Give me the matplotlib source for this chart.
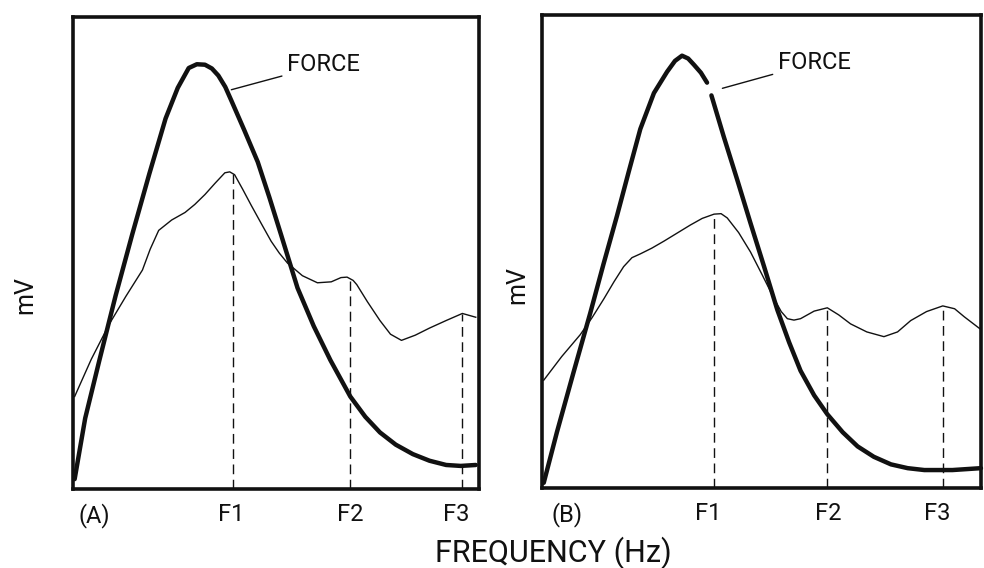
import matplotlib
matplotlib.use("Agg")
import matplotlib.pyplot as plt

FONT = ['Roboto', 'DejaVu Sans']
plt.rcParams['font.family'] = FONT
plt.rcParams['font.weight'] = 'normal'

# ---------------- data (normalised panel units 0..100) ----------------
# Panel A
force_a_x = [0.4, 3.0, 6.5, 10.5, 14.6, 18.8, 22.8, 25.8, 28.5, 30.5, 32.5, 34.2, 35.8, 37.5, 39.0, 42.2,
             45.5, 48.4, 51.2, 55.3, 59.3, 63.4, 68.3, 72.0, 75.6, 79.5, 83.7, 87.8, 91.9, 95.5, 99.2]
force_a_y = [2.1, 15.0, 27.3, 41.0, 54.0, 66.8, 78.5, 85.0, 89.2, 90.0, 89.9, 89.1, 87.6, 85.2, 82.3, 76.0,
             69.3, 61.7, 54.0, 42.6, 34.5, 27.3, 19.6, 15.3, 12.0, 9.4, 7.4, 6.0, 5.1, 4.9, 5.1]
thin_a_x = [0.4, 4.5, 8.9, 13.0, 17.1, 19.0, 21.1, 24.3, 27.6, 30.0, 32.5, 35.0, 37.4, 38.6, 39.8, 41.8, 43.9,
            46.4, 48.8, 50.8, 52.8, 56.5, 60.2, 63.6, 66.0, 67.5, 69.0, 69.9, 72.5, 75.6, 78.2, 80.9,
            84.3, 87.8, 91.9, 95.9, 99.2]
thin_a_y = [19.6, 27.5, 34.9, 40.8, 46.4, 50.8, 54.8, 57.0, 58.6, 60.3, 62.4, 64.8, 67.0, 67.2, 66.6, 63.5,
            60.1, 56.2, 52.5, 50.0, 47.9, 45.2, 43.7, 43.9, 44.8, 44.9, 44.2, 43.3, 39.7, 35.7, 32.8, 31.5,
            32.6, 34.1, 35.7, 37.2, 36.4]
marks_a_x = [39.3, 68.3, 95.9]
marks_a_top = [66.8, 44.0, 37.0]

# Panel B
force_b_x = [0.4, 3.4, 7.2, 11.0, 14.0, 17.1, 19.8, 22.4, 25.5, 28.5, 30.3, 31.9, 33.3, 34.6, 36.2, 37.6]
force_b_y = [1.1, 11.8, 24.5, 37.0, 47.3, 57.6, 67.0, 75.9, 83.5, 88.0, 90.3, 91.4, 90.8, 89.5, 87.8, 85.7]
force_b2_x = [38.6, 41.4, 44.5, 47.5, 50.6, 53.6, 56.3, 58.9, 62.0, 65.0, 68.5, 71.9, 75.6, 79.5, 83.3,
              87.1, 93.5, 100.0]
force_b2_y = [83.0, 74.3, 65.1, 56.0, 46.8, 37.7, 30.8, 24.8, 19.6, 15.6, 11.8, 8.8, 6.6, 5.0, 4.2,
              3.8, 3.8, 4.2]
thin_b_x = [0.4, 4.5, 8.7, 11.4, 14.1, 16.4, 18.6, 20.5, 22.4, 25.0, 27.8, 30.8, 33.8, 36.5, 39.2, 40.8,
            42.2, 44.8, 47.5, 50.2, 52.9, 54.5, 55.9, 57.4, 58.9, 62.0, 65.0, 67.6, 70.3, 74.0, 77.9,
            81.0, 84.0, 87.6, 91.3, 94.0, 96.2, 100.0]
thin_b_y = [22.8, 27.8, 32.4, 36.0, 40.0, 43.6, 46.8, 48.7, 49.5, 50.7, 52.2, 53.9, 55.6, 57.0, 57.9, 58.0,
            57.1, 54.0, 49.9, 45.0, 40.0, 37.3, 35.8, 35.5, 35.8, 37.4, 38.1, 36.6, 34.7, 33.0, 32.0,
            33.0, 35.4, 37.3, 38.5, 37.9, 36.2, 33.5]
marks_b_x = [39.2, 65.0, 91.3]
marks_b_top = [57.9, 38.1, 38.5]

tick_labels_a = ['(A)', 'F1', 'F2', 'F3']
tick_pos_a = [5.3, 39.0, 68.3, 94.5]
tick_labels_b = ['(B)', 'F1', 'F2', 'F3']
tick_pos_b = [5.6, 37.8, 65.2, 90.0]

# ---------------- figure ----------------
fig = plt.figure(figsize=(9.84, 5.68), dpi=100)
axA = fig.add_axes([0.0742, 0.139, 0.4126, 0.831])
axB = fig.add_axes([0.5508, 0.1408, 0.4461, 0.8328])

def style(ax, pos, labels):
    ax.set_xlim(0, 100)
    ax.set_ylim(0, 100)
    for s in ax.spines.values():
        s.set_linewidth(2.6)
        s.set_color('#111111')
    ax.set_yticks([])
    ax.set_xticks(pos)
    ax.set_xticklabels(labels, fontsize=17, color='#111111')
    ax.tick_params(axis='x', length=0, pad=10)

style(axA, tick_pos_a, tick_labels_a)
style(axB, tick_pos_b, tick_labels_b)

kw_force = dict(color='#111111', lw=3.2, solid_capstyle='round', solid_joinstyle='round', clip_on=False)
kw_thin = dict(color='#111111', lw=1.0, solid_joinstyle='round')

axA.plot(force_a_x, force_a_y, **kw_force)
axA.plot(thin_a_x, thin_a_y, **kw_thin)
axA.vlines(marks_a_x, 0, marks_a_top, colors='#111111', lw=1.0, linestyles=(0, (7, 4)))

axB.plot(force_b_x, force_b_y, **kw_force)
axB.plot(force_b2_x, force_b2_y, **kw_force)
axB.plot(thin_b_x, thin_b_y, **kw_thin)
axB.vlines(marks_b_x, 0, marks_b_top, colors='#111111', lw=1.0, linestyles=(0, (7, 4)))

axA.annotate('FORCE', xy=(39.0, 84.6), xytext=(52.8, 89.9), fontsize=17, va='center', ha='left',
             color='#111111',
             arrowprops=dict(arrowstyle='-', color='#111111', lw=1.0, shrinkA=2, shrinkB=0))
axB.annotate('FORCE', xy=(41.1, 84.5), xytext=(53.8, 89.9), fontsize=17, va='center', ha='left',
             color='#111111',
             arrowprops=dict(arrowstyle='-', color='#111111', lw=1.0, shrinkA=2, shrinkB=0))

fig.text(25 / 984, 1 - 295 / 568, 'mV', rotation=90, fontsize=18, ha='center', va='center',
         color='#111111')
fig.text(517 / 984, 1 - 285 / 568, 'mV', rotation=90, fontsize=18, ha='center', va='center',
         color='#111111')
fig.text(553 / 984, 1 - 553 / 568, 'FREQUENCY (Hz)', fontsize=22, ha='center', va='center',
         color='#111111')

fig.savefig('out.png', dpi=100, facecolor='white')
